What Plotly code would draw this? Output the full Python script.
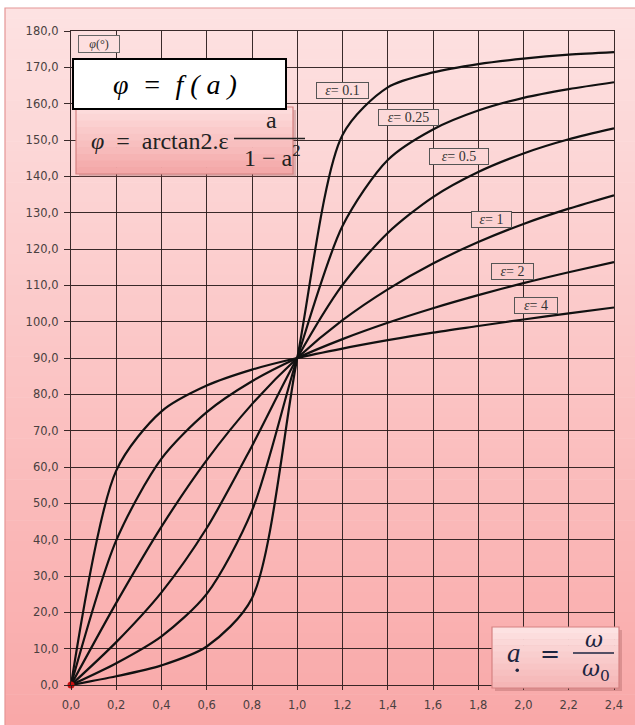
import plotly.graph_objects as go

# Frequency ratio a = omega / omega0
a_values = [0.0, 0.2, 0.4, 0.6, 0.8, 1.0, 1.2, 1.4, 1.6, 1.8, 2.0, 2.2, 2.4]

# Phase angle phi (degrees) for each damping value epsilon
eps_values = ["0.1", "0.25", "0.5", "1", "2", "4"]
phi_eps_0_1 = [0.0, 2.4, 5.4, 10.6, 23.9, 90.0, 151.4, 164.5, 168.6, 170.9, 172.4, 173.5, 174.2]
phi_eps_0_25 = [0.0, 6.0, 13.4, 25.1, 48.0, 90.0, 126.3, 144.5, 152.9, 158.1, 161.6, 164.0, 165.9]
phi_eps_0_5 = [0.0, 11.8, 25.5, 43.2, 65.8, 90.0, 110.1, 124.4, 134.3, 141.2, 146.3, 150.2, 153.2]
phi_eps_1 = [0.0, 22.6, 43.6, 61.9, 77.3, 90.0, 100.4, 108.9, 116.0, 121.9, 126.9, 131.1, 134.8]
phi_eps_2 = [0.0, 39.8, 62.3, 75.1, 83.6, 90.0, 95.2, 99.7, 103.7, 107.3, 110.6, 113.6, 116.4]
phi_eps_4 = [0.0, 59.0, 75.3, 82.4, 86.8, 90.0, 92.6, 94.9, 97.0, 98.8, 100.6, 102.3, 103.9]
phi_series = [phi_eps_0_1, phi_eps_0_25, phi_eps_0_5, phi_eps_1, phi_eps_2, phi_eps_4]

# Axis ticks
x_ticks = [0.0, 0.2, 0.4, 0.6, 0.8, 1.0, 1.2, 1.4, 1.6, 1.8, 2.0, 2.2, 2.4]
x_tick_labels = ["0,0", "0,2", "0,4", "0,6", "0,8", "1,0", "1,2", "1,4", "1,6", "1,8", "2,0", "2,2", "2,4"]
y_ticks = [0, 10, 20, 30, 40, 50, 60, 70, 80, 90, 100, 110, 120, 130, 140, 150, 160, 170, 180]
y_tick_labels = ["0,0", "10,0", "20,0", "30,0", "40,0", "50,0", "60,0", "70,0", "80,0", "90,0",
                 "100,0", "110,0", "120,0", "130,0", "140,0", "150,0", "160,0", "170,0", "180,0"]

W, H = 635, 725
L, R, T, B = 71, 21, 31, 40
PW, PH = W - L - R, H - T - B


def px(x):
    return (x - L) / PW


def py(y):
    return (H - B - y) / PH


def mix(c0, c1, t):
    return "rgb(%d,%d,%d)" % tuple(round(c0[i] + (c1[i] - c0[i]) * t) for i in range(3))


BG_TOP = (253, 226, 226)
BG_BOT = (249, 168, 168)


def bg_at(y):
    return mix(BG_TOP, BG_BOT, max(0.0, min(1.0, (y - 8) / (H - 8))))


GRID = "rgba(40,26,26,0.92)"
INK = "#1d2540"

fig = go.Figure()

for phi in phi_series:
    fig.add_trace(go.Scatter(
        x=a_values, y=phi, mode="lines",
        line=dict(color="#111111", width=2.2, shape="spline", smoothing=0.8),
        hoverinfo="skip", showlegend=False,
    ))

# origin marker
fig.add_trace(go.Scatter(
    x=[a_values[0]], y=[phi_eps_0_1[0]], mode="markers",
    marker=dict(color="#c81010", size=7), showlegend=False, hoverinfo="skip",
    cliponaxis=False,
))

shapes = []

# background gradient of the chart area
n_bands = 70
top, bot = 8, H
for i in range(n_bands):
    y0 = top + (bot - top) * i / n_bands
    y1 = top + (bot - top) * (i + 1) / n_bands + 0.6
    shapes.append(dict(type="rect", xref="paper", yref="paper", layer="below",
                       x0=px(5), x1=px(W + 5), y0=py(y0), y1=py(y1),
                       fillcolor=bg_at((y0 + y1) / 2), line=dict(width=0)))
shapes.append(dict(type="rect", xref="paper", yref="paper", layer="below",
                   x0=px(5), x1=px(W + 10), y0=py(8), y1=py(H + 10),
                   fillcolor="rgba(0,0,0,0)", line=dict(color="rgb(228,150,150)", width=1.2)))


def gradient_box(x0, y0, x1, y1, c_top, c_bot, border, n=10):
    out = [dict(type="rect", xref="paper", yref="paper", layer="above",
                x0=px(x0 + 3), x1=px(x1 + 3), y0=py(y0 + 3), y1=py(y1 + 3),
                fillcolor="rgba(150,80,80,0.30)", line=dict(width=0))]
    for i in range(n):
        b0 = y0 + (y1 - y0) * i / n
        b1 = y0 + (y1 - y0) * (i + 1) / n + 0.5
        out.append(dict(type="rect", xref="paper", yref="paper", layer="above",
                        x0=px(x0), x1=px(x1), y0=py(b0), y1=py(min(b1, y1)),
                        fillcolor=mix(c_top, c_bot, (i + 0.5) / n), line=dict(width=0)))
    out.append(dict(type="rect", xref="paper", yref="paper", layer="above",
                    x0=px(x0), x1=px(x1), y0=py(y0), y1=py(y1),
                    fillcolor="rgba(0,0,0,0)", line=dict(color=border, width=1.2)))
    return out


# formula box
shapes += gradient_box(76, 107, 293, 174, (253, 222, 222), (244, 166, 166), "rgb(214,130,130)")
# fraction bar
shapes.append(dict(type="line", xref="paper", yref="paper", layer="above",
                   x0=px(234), x1=px(305), y0=py(138.5), y1=py(138.5),
                   line=dict(color="#222222", width=1.3)))
# title box
shapes.append(dict(type="rect", xref="paper", yref="paper", layer="above",
                   x0=px(73), x1=px(286), y0=py(59), y1=py(109),
                   fillcolor="white", line=dict(color="black", width=2)))
# ratio box
shapes += gradient_box(492, 627, 619, 688, (253, 228, 228), (245, 180, 180), "rgb(214,130,130)")
shapes.append(dict(type="line", xref="paper", yref="paper", layer="above",
                   x0=px(573), x1=px(614), y0=py(653), y1=py(653),
                   line=dict(color=INK, width=1.3)))
# small dot under the ratio symbol
shapes.append(dict(type="circle", xref="paper", yref="paper", layer="above",
                   x0=px(515.5), x1=px(519), y0=py(668.5), y1=py(672),
                   fillcolor=INK, line=dict(width=0)))

annotations = []


def note(x, y, text, size, color="#222222", family="Liberation Serif", **kw):
    d = dict(xref="paper", yref="paper", x=px(x), y=py(y), text=text, showarrow=False,
             xanchor="center", yanchor="middle", font=dict(family=family, size=size, color=color))
    d.update(kw)
    annotations.append(d)


nb = "\u00a0"
note(175, 85, "<i>φ" + nb * 2 + "=" + nb * 2 + "f" + nb + "(" + nb + "a" + nb + ")</i>", 28, color="black")
note(99, 44, "<i>φ</i>(°)", 12, color="#333333", bordercolor="#666666", borderwidth=1,
     borderpad=1, bgcolor=bg_at(44), width=38, height=14)
note(160, 141, "<i>φ</i>" + nb * 2 + "=" + nb * 2 + "arctan2.ε", 24)
note(271, 120, "a", 24)
note(272, 156, "1 − a<sup>2</sup>", 24)

note(514, 653, "<i>a</i>", 27, color=INK)
note(550, 654, "=", 24, color=INK, family="DejaVu Sans")
note(594, 639, "<i>ω</i>", 22, color=INK, family="DejaVu Serif")
note(596, 670, "<i>ω</i><sub>0</sub>", 22, color=INK, family="DejaVu Serif")

# epsilon labels
eps_boxes = [(342, 90, 49), (408, 117, 57), (459, 156, 56), (491, 219, 37), (512, 271, 39), (536, 305, 40)]
for eps, (bx, by, bw) in zip(eps_values, eps_boxes):
    note(bx, by, "<i>ε</i>= " + eps, 14, color="#333333", bordercolor="#555555", borderwidth=1,
         borderpad=1, bgcolor=bg_at(by), width=bw, height=13)

fig.update_layout(
    width=W, height=H,
    margin=dict(l=L, r=R, t=T, b=B),
    paper_bgcolor="white",
    plot_bgcolor="rgba(0,0,0,0)",
    shapes=shapes,
    annotations=annotations,
    showlegend=False,
    xaxis=dict(range=[0, 2.4], tickmode="array", tickvals=x_ticks, ticktext=x_tick_labels,
               showgrid=True, gridcolor=GRID, gridwidth=1.4, zeroline=False,
               showline=True, mirror=True, linecolor=GRID, linewidth=1.4,
               ticks="outside", ticklen=4, tickcolor=GRID, tickwidth=1.3,
               ticklabelstandoff=5,
               tickfont=dict(family="DejaVu Sans", size=11.5, color="#4a4040")),
    yaxis=dict(range=[0, 180], tickmode="array", tickvals=y_ticks, ticktext=y_tick_labels,
               showgrid=True, gridcolor=GRID, gridwidth=1.4, zeroline=False,
               showline=True, mirror=True, linecolor=GRID, linewidth=1.4,
               ticks="outside", ticklen=6, tickcolor=GRID, tickwidth=1.3,
               ticklabelstandoff=3,
               tickfont=dict(family="DejaVu Sans", size=11.5, color="#4a4040")),
)

fig.write_html("out.html")
